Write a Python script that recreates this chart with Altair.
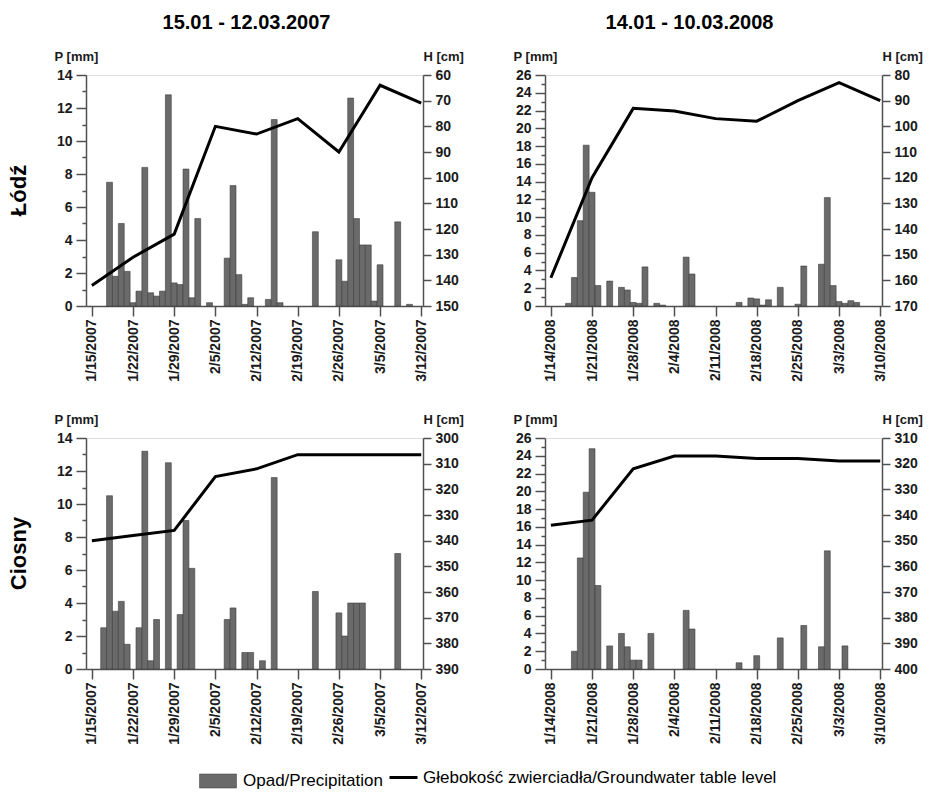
import altair as alt
import pandas as pd

FONT = "Liberation Sans"
NARROW = "Liberation Sans Narrow, Liberation Sans, Arial"
AXIS_COLOR = "#505050"
BAR_FILL = "#6a6a6a"
BAR_EDGE = "#3c3c3c"

PREC = "Opad/Precipitation"
GW = "Głebokość zwierciadła/Groundwater table level"

# weekly tick labels (also the dates of the groundwater readings)
ticks_2007 = ["1/15/2007", "1/22/2007", "1/29/2007", "2/5/2007", "2/12/2007",
              "2/19/2007", "2/26/2007", "3/5/2007", "3/12/2007"]
ticks_2008 = ["1/14/2008", "1/21/2008", "1/28/2008", "2/4/2008", "2/11/2008",
              "2/18/2008", "2/25/2008", "3/3/2008", "3/10/2008"]

# Łódź, 2007
lodz07_dates = ["2007-01-18", "2007-01-19", "2007-01-20", "2007-01-21", "2007-01-22",
                "2007-01-23", "2007-01-24", "2007-01-25", "2007-01-26", "2007-01-27",
                "2007-01-28", "2007-01-29", "2007-01-30", "2007-01-31", "2007-02-01",
                "2007-02-02", "2007-02-04", "2007-02-07", "2007-02-08", "2007-02-09",
                "2007-02-10", "2007-02-11", "2007-02-14", "2007-02-15", "2007-02-16",
                "2007-02-22", "2007-02-26", "2007-02-27", "2007-02-28", "2007-03-01",
                "2007-03-02", "2007-03-03", "2007-03-04", "2007-03-05", "2007-03-08",
                "2007-03-10"]
lodz07_p = [7.5, 1.8, 5.0, 2.1, 0.2,
            0.9, 8.4, 0.8, 0.6, 0.9,
            12.8, 1.4, 1.3, 8.3, 0.5,
            5.3, 0.2, 2.9, 7.3, 1.9,
            0.1, 0.5, 0.4, 11.3, 0.2,
            4.5, 2.8, 1.5, 12.6, 5.3,
            3.7, 3.7, 0.3, 2.5, 5.1,
            0.1]
lodz07_h = [142, 131, 122, 80, 83, 77, 90, 64, 71]

# Łódź, 2008
lodz08_dates = ["2008-01-17", "2008-01-18", "2008-01-19", "2008-01-20", "2008-01-21",
                "2008-01-22", "2008-01-24", "2008-01-26", "2008-01-27", "2008-01-28",
                "2008-01-29", "2008-01-30", "2008-02-01", "2008-02-02", "2008-02-06",
                "2008-02-07", "2008-02-15", "2008-02-17", "2008-02-18", "2008-02-19",
                "2008-02-20", "2008-02-22", "2008-02-25", "2008-02-26", "2008-02-29",
                "2008-03-01", "2008-03-02", "2008-03-03", "2008-03-04", "2008-03-05",
                "2008-03-06"]
lodz08_p = [0.3, 3.2, 9.6, 18.1, 12.8,
            2.3, 2.8, 2.1, 1.8, 0.4,
            0.3, 4.4, 0.3, 0.1, 5.5,
            3.6, 0.4, 0.9, 0.8, 0.1,
            0.7, 2.1, 0.2, 4.5, 4.7,
            12.2, 2.3, 0.5, 0.3, 0.6,
            0.4]
lodz08_h = [159, 120, 93, 94, 97, 98, 90, 83, 90]

# Ciosny, 2007
ciosny07_dates = ["2007-01-17", "2007-01-18", "2007-01-19", "2007-01-20", "2007-01-21",
                  "2007-01-23", "2007-01-24", "2007-01-25", "2007-01-26", "2007-01-28",
                  "2007-01-30", "2007-01-31", "2007-02-01", "2007-02-07", "2007-02-08",
                  "2007-02-10", "2007-02-11", "2007-02-13", "2007-02-15", "2007-02-22",
                  "2007-02-26", "2007-02-27", "2007-02-28", "2007-03-01", "2007-03-02",
                  "2007-03-08"]
ciosny07_p = [2.5, 10.5, 3.5, 4.1, 1.5,
              2.5, 13.2, 0.5, 3.0, 12.5,
              3.3, 9.0, 6.1, 3.0, 3.7,
              1.0, 1.0, 0.5, 11.6, 4.7,
              3.4, 2.0, 4.0, 4.0, 4.0,
              7.0]
ciosny07_h = [340, 338, 336, 315, 312, 306.5, 306.5, 306.5, 306.5]

# Ciosny, 2008
ciosny08_dates = ["2008-01-18", "2008-01-19", "2008-01-20", "2008-01-21", "2008-01-22",
                  "2008-01-24", "2008-01-26", "2008-01-27", "2008-01-28", "2008-01-29",
                  "2008-01-31", "2008-02-06", "2008-02-07", "2008-02-15", "2008-02-18",
                  "2008-02-22", "2008-02-26", "2008-02-29", "2008-03-01", "2008-03-04"]
ciosny08_p = [2.0, 12.5, 19.9, 24.8, 9.4,
              2.6, 4.0, 2.5, 1.0, 1.0,
              4.0, 6.6, 4.5, 0.7, 1.5,
              3.5, 4.9, 2.5, 13.3, 2.6]
ciosny08_h = [344, 342, 322, 317, 317, 318, 318, 319, 319]

PLOT_W = 337
PLOT_H = 231
X_DOMAIN = [-1, 56.3]


def panel(tick_labels, bar_dates, bar_p, line_h, p_max, h_domain,
          col_title=None, col_title_x=0, row_title=None):
    start = pd.to_datetime(tick_labels[0], format="%m/%d/%Y")
    tick_days = [(pd.to_datetime(t, format="%m/%d/%Y") - start).days for t in tick_labels]
    bar_days = [(pd.Timestamp(d) - start).days for d in bar_dates]

    bars = pd.DataFrame({"day": bar_days, "P": bar_p, "series": PREC})
    bars["d0"] = bars["day"] - 0.5
    bars["d1"] = bars["day"] + 0.5
    line = pd.DataFrame({"day": tick_days, "H": line_h, "series": GW})

    label_list = "[" + ",".join(f"'{t}'" for t in tick_labels) + "]"
    x_scale = alt.Scale(domain=X_DOMAIN, nice=False, zero=False)

    x_axis = alt.Axis(
        values=tick_days, labelExpr=f"{label_list}[round(datum.value / 7)]",
        labelAngle=270, labelFont=FONT, labelFontWeight="bold", labelFontSize=14,
        labelColor="#1a1a1a", labelPadding=3, labelFlush=False, labelOverlap=False,
        tickSize=10, tickColor=AXIS_COLOR, tickWidth=1.5,
        domainColor=AXIS_COLOR, domainWidth=1.5, grid=False, title=None,
    )
    p_axis = alt.Axis(
        values=list(range(0, p_max + 1)),
        labelExpr="datum.value % 2 === 0 ? datum.label : ''",
        tickSize={"condition": {"test": "datum.value % 2 === 0", "value": 10}, "value": 4},
        tickColor=AXIS_COLOR, tickWidth=1.5, domainColor=AXIS_COLOR, domainWidth=1.5,
        labelFont=FONT, labelFontWeight="bold", labelFontSize=14, labelColor="#1a1a1a",
        labelPadding=4, labelOverlap=False, grid=False,
        title="P [mm]", titleAngle=0, titleX=-32, titleY=-15, titleAlign="left",
        titleBaseline="alphabetic", titleFont=FONT, titleFontSize=13,
        titleFontWeight="bold", titleColor="#1a1a1a",
    )
    h_axis = alt.Axis(
        orient="right", values=list(range(h_domain[0], h_domain[1] + 1, 10)),
        tickSize=8, tickColor=AXIS_COLOR, tickWidth=1.5,
        domainColor=AXIS_COLOR, domainWidth=1.5,
        labelFont=FONT, labelFontWeight="bold", labelFontSize=14, labelColor="#1a1a1a",
        labelPadding=4, labelOverlap=False, grid=False,
        title="H [cm]", titleAngle=0, titleX=0, titleY=-15, titleAlign="left",
        titleBaseline="alphabetic", titleFont=FONT, titleFontSize=13,
        titleFontWeight="bold", titleColor="#1a1a1a",
    )

    bar_layer = alt.Chart(bars).mark_bar(stroke=BAR_EDGE, strokeWidth=0.6).encode(
        x=alt.X("d0:Q", scale=x_scale, axis=x_axis),
        x2="d1:Q",
        y=alt.Y("P:Q", scale=alt.Scale(domain=[0, p_max], nice=False), axis=p_axis),
        y2=alt.datum(0),
        fill=alt.Fill("series:N", scale=alt.Scale(domain=[PREC], range=[BAR_FILL]),
                      legend=alt.Legend(
                          title=None, orient="none", legendX=113, legendY=687,
                          symbolType="M-1,-0.38H1V0.38H-1Z", symbolSize=1369,
                          symbolStrokeColor=BAR_EDGE, symbolStrokeWidth=0.5,
                          labelFont=FONT, labelFontSize=17, labelColor="black",
                          labelOffset=6, labelLimit=600, padding=0)),
    )

    # the column heading rides on a label-less top axis of the line layer
    if col_title:
        top_axis = alt.Axis(
            orient="top", labels=False, ticks=False, domain=False, grid=False,
            title=col_title, titleFont=NARROW, titleFontSize=20, titleFontWeight="bold",
            titleColor="black", titleAngle=0, titleX=col_title_x, titleY=-47,
            titleAlign="center", titleBaseline="alphabetic",
        )
    else:
        top_axis = None

    line_layer = alt.Chart(line).mark_line(strokeWidth=3, strokeJoin="miter").encode(
        x=alt.X("day:Q", scale=x_scale, axis=top_axis),
        y=alt.Y("H:Q", scale=alt.Scale(domain=h_domain, reverse=True, nice=False, zero=False),
                axis=h_axis),
        stroke=alt.Stroke("series:N", scale=alt.Scale(domain=[GW], range=["black"]),
                          legend=alt.Legend(
                              title=None, orient="none", legendX=302, legendY=687,
                              symbolType="stroke", symbolSize=784, symbolStrokeWidth=3,
                              labelFont=FONT, labelFontSize=17, labelColor="black",
                              labelOffset=4, labelLimit=600, padding=0)),
    )

    layered = (alt.layer(bar_layer, line_layer)
               .resolve_scale(y="independent")
               .resolve_axis(x="independent"))
    props = dict(width=PLOT_W, height=PLOT_H)
    if row_title:
        props["title"] = alt.TitleParams(
            text=row_title, orient="left", anchor="middle", font=FONT, fontSize=22,
            fontWeight="bold", color="black", offset=23)
    return layered.properties(**props)


tl = panel(ticks_2007, lodz07_dates, lodz07_p, lodz07_h, 14, [60, 150],
           col_title="15.01 - 12.03.2007", col_title_x=160, row_title="Łódź")
tr = panel(ticks_2008, lodz08_dates, lodz08_p, lodz08_h, 26, [80, 170],
           col_title="14.01 - 10.03.2008", col_title_x=144)
bl = panel(ticks_2007, ciosny07_dates, ciosny07_p, ciosny07_h, 14, [300, 390],
           row_title="Ciosny")
br = panel(ticks_2008, ciosny08_dates, ciosny08_p, ciosny08_h, 26, [310, 400])

chart = alt.ConcatChart(
    concat=[tl, tr, bl, br], columns=2,
    spacing=alt.RowColnumber(row=132, column=122), bounds="flush",
).resolve_scale(x="independent", y="independent").properties(
    padding={"left": 7, "top": 11, "right": 0, "bottom": 0},
).configure_view(stroke=None).configure(background="white")

chart.save("out.html", embed_options={"renderer": "svg", "actions": False})
